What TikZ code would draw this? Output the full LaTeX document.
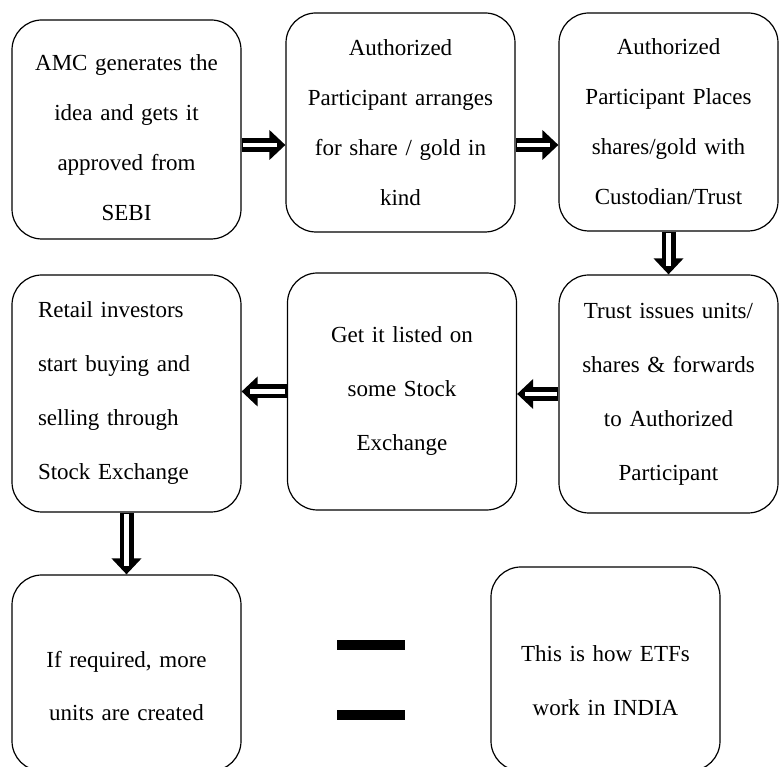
\documentclass[tikz,border=0pt]{standalone}
\usepackage{fontspec}
\setmainfont{Liberation Serif}
\usetikzlibrary{arrows.meta}
\tikzset{
	etfbox/.style={draw, line width=1.2pt, rounded corners=30pt, align=center,
		inner xsep=8pt, font=\fontsize{23}{50}\selectfont},
	widebox/.style={etfbox, text width=213pt, minimum width=229pt},
	narrowbox/.style={etfbox, text width=203pt, minimum width=219pt},
	tallline/.style={font=\fontsize{23}{54}\selectfont},
	lowtext/.style={execute at begin node={\rule{0pt}{#1}}},
}
\newcommand{\flowarrow}[2]{% \flowarrow ==== hollow block arrow
		\draw[line width=14pt, -{Triangle[length=16pt,width=29pt]}] (#1) -- (#2); % outline
		\draw[white, line width=4.5pt, shorten <=1.5pt, shorten >=8pt] (#1) -- (#2); % core
	}
\begin{document}
\begin{tikzpicture}[x=1pt, y=1pt]
		\clip (0,0) rectangle (779,767);
		\fill[white] (0,0) rectangle (779,767);

		% first row
		\node[widebox, lowtext=32pt, minimum height=219pt] (amc) at (126.5,637.5)
			{AMC generates the\\idea and gets it\\approved from\\SEBI};
		\node[widebox, minimum height=219pt] (ap) at (400.5,644.5)
			{Authorized\\Participant arranges\\for share / gold in\\kind};
		\node[narrowbox, minimum height=218pt] (cust) at (668.5,645)
			{Authorized\\Participant Places\\shares/gold with\\Custodian/Trust};

		% second row
		\node[narrowbox, tallline, minimum height=238pt] (trust) at (668.5,373)
			{Trust issues units/\\shares \& forwards\\to Authorized\\Participant};
		\node[widebox, tallline, minimum height=237pt] (listed) at (402,375.5)
			{Get it listed on\\some Stock\\Exchange};
		\node[etfbox, tallline, align=left, inner xsep=26pt, text width=177pt,
			minimum width=229pt, minimum height=237pt] (retail) at (126.5,373.5)
			{Retail investors\\start buying and\\selling through\\Stock Exchange};

		% last row
		\node[widebox, lowtext=42pt, font=\fontsize{23}{53}\selectfont,
			minimum height=196pt] (units) at (126.5,94)
			{If required, more\\units are created};
		\node[widebox, lowtext=39pt, tallline, minimum height=204pt] (howetf) at (605.5,98)
			{This is how ETFs\\work in INDIA};

		% equals sign
		\fill (337,117) rectangle (405,127);
		\fill (337,47) rectangle (405,57);

		% arrows
		\coordinate (a1) at ([yshift=-15.5pt]amc.east);
		\coordinate (a2) at (ap.east |- a1);
		\flowarrow{a1}{a1 -| ap.west}
		\flowarrow{a2}{a2 -| cust.west}
		\flowarrow{cust.south}{trust.north}
		\flowarrow{trust.west}{trust.west -| listed.east}
		\flowarrow{listed.west}{listed.west -| retail.east}
		\flowarrow{retail.south}{units.north}

		\end{tikzpicture}
\end{document}
